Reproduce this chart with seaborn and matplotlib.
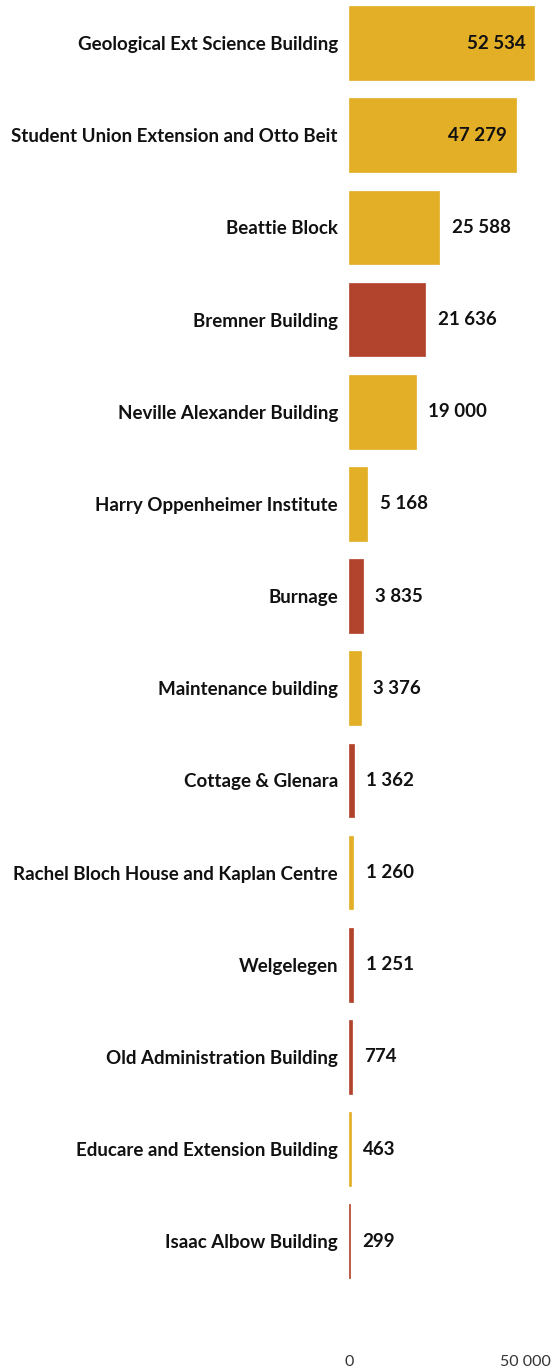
import pandas as pd
import matplotlib
matplotlib.use("Agg")
import matplotlib.pyplot as plt
import seaborn as sns

# Данные
buildings = [
    "Geological Ext Science Building",
    "Student Union Extension and Otto Beit",
    "Beattie Block",
    "Bremner Building",
    "Neville Alexander Building",
    "Harry Oppenheimer Institute",
    "Burnage",
    "Maintenance building",
    "Cottage & Glenara",
    "Rachel Bloch House and Kaplan Centre",
    "Welgelegen",
    "Old Administration Building",
    "Educare and Extension Building",
    "Isaac Albow Building",
]
areas = [52534, 47279, 25588, 21636, 19000, 5168, 3835, 3376, 1362, 1260, 1251, 774, 463, 299]
groups = ["gold", "gold", "gold", "red", "gold", "gold", "red", "gold",
          "red", "gold", "red", "red", "gold", "red"]
x_ticks = [0, 50000]

df = pd.DataFrame({"building": buildings, "area": areas, "group": groups})
palette = {"gold": "#E3AF27", "red": "#B2432C"}

sns.set_style("white")
plt.rcParams["font.family"] = ["Lato", "DejaVu Sans"]

fig = plt.figure(figsize=(5.52, 13.69), dpi=100)
ax = fig.add_axes([349 / 552, 0.0125, 1 - 349 / 552, 0.9875])

sns.barplot(data=df, x="area", y="building", hue="group", palette=palette,
            dodge=False, width=0.8, legend=False, ax=ax, saturation=1)

# тонкие столбики должны быть видны
for p in ax.patches:
    p.set_edgecolor(p.get_facecolor())
    p.set_linewidth(0.5)

def fmt(v):
    return f"{v:,}".replace(",", " ")

ax.set_xlim(0, 57600)
ax.set_ylim(14.2, -0.467)

for i, v in enumerate(areas):
    if v > 40000:
        ax.annotate(fmt(v), (v, i), xytext=(-6, 0), textcoords="offset points",
                    ha="right", va="center", fontsize=13.5, fontweight="bold", color="#111111")
    else:
        ax.annotate(fmt(v), (v, i), xytext=(9, 0), textcoords="offset points",
                    ha="left", va="center", fontsize=13.5, fontweight="bold", color="#111111")

ax.set_xticks(x_ticks)
ax.set_xticklabels([fmt(t) for t in x_ticks], fontsize=11.5, color="#333333")
ax.tick_params(axis="x", length=0, pad=2)
ax.tick_params(axis="y", length=0, pad=8)
for lbl in ax.get_yticklabels():
    lbl.set_fontweight("bold")
    lbl.set_fontsize(13.5)
    lbl.set_color("#111111")

ax.set_xlabel("")
ax.set_ylabel("")
sns.despine(ax=ax, left=True, bottom=True)

fig.savefig("out.png", dpi=100)
